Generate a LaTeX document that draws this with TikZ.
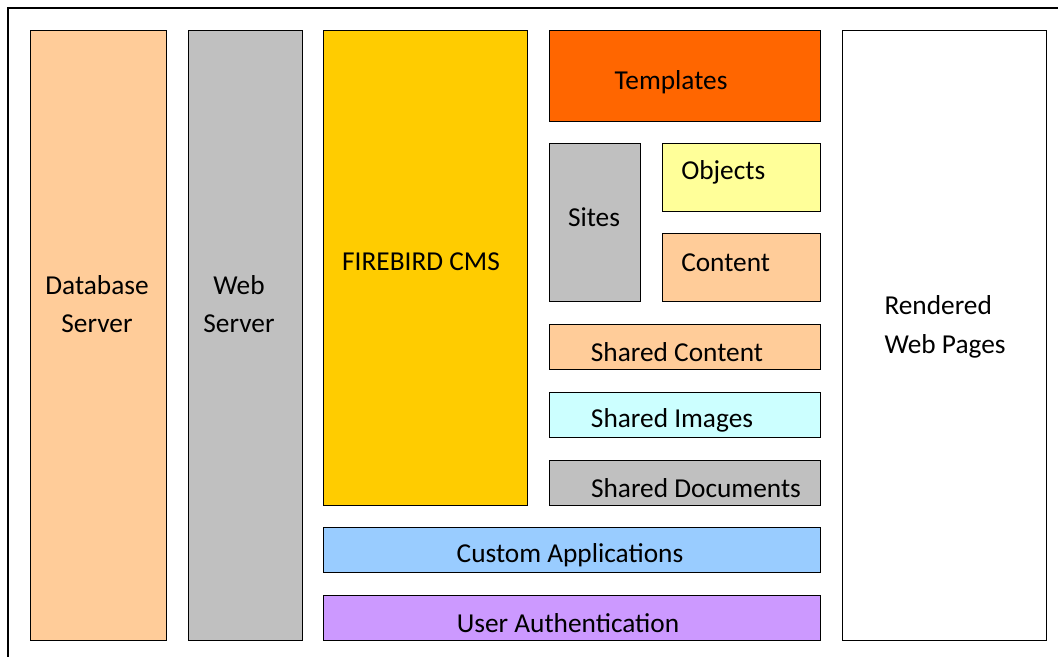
\documentclass[tikz,border=0pt]{standalone}
\usepackage{fontspec}
\setmainfont{Carlito}
\usepackage{tikz}
\definecolor{peach}{HTML}{FFCC99}
\definecolor{silver}{HTML}{C0C0C0}
\definecolor{gold}{HTML}{FFCC00}
\definecolor{tangerine}{HTML}{FF6600}
\definecolor{lemon}{HTML}{FFFF99}
\definecolor{ice}{HTML}{CCFFFF}
\definecolor{sky}{HTML}{99CCFF}
\definecolor{lilac}{HTML}{CC99FF}
\tikzset{panel/.style={draw=black, line width=1.1pt, anchor=north west, inner sep=0pt},
	lbl/.style={inner sep=0pt, yshift=-1.5pt, font=\fontsize{20.5}{29}\selectfont, align=center}}

\begin{document}
\begin{tikzpicture}[x=0.75pt, y=-0.75pt]
	\useasboundingbox (0,0) rectangle (1058,657);
	\begin{scope}
		\clip (0,0) rectangle (1058,657);
		\draw[line width=1.5pt] (8,8) rectangle (1080,680); % outer frame, cut off right and bottom
	\end{scope}
	% columns
	\node[panel, fill=peach, minimum width=102pt, minimum height=457.5pt] at (30,30) (Database) {};
	\node[panel, fill=silver, minimum width=85.5pt, minimum height=457.5pt] at (188,30) (WebSrv) {};
	\node[panel, fill=gold, minimum width=153pt, minimum height=356.25pt] at (323,30) (CMS) {};
	\node[panel, fill=white, minimum width=153pt, minimum height=457.5pt] at (842,30) (Rendered) {};
	% right hand stack
	\node[panel, fill=tangerine, minimum width=203.25pt, minimum height=68.25pt] at (549,30) (Templates) {};
	\node[panel, fill=silver, minimum width=68.25pt, minimum height=118.5pt] at (549,143) (Sites) {};
	\node[panel, fill=lemon, minimum width=118.5pt, minimum height=51pt] at (662,143) (Objects) {};
	\node[panel, fill=peach, minimum width=118.5pt, minimum height=51pt] at (662,233) (Content) {};
	\node[panel, fill=peach, minimum width=203.25pt, minimum height=33.75pt] at (549,324) (SharedContent) {};
	\node[panel, fill=ice, minimum width=203.25pt, minimum height=33.75pt] at (549,392) (SharedImages) {};
	\node[panel, fill=silver, minimum width=203.25pt, minimum height=33.75pt] at (549,460) (SharedDocs) {};
	% bottom bars
	\node[panel, fill=sky, minimum width=372.75pt, minimum height=33.75pt] at (323,527) (CustomApps) {};
	\node[panel, fill=lilac, minimum width=372.75pt, minimum height=33.75pt] at (323,595) (UserAuth) {};
	% labels
	\node[lbl] at (97,302) (Database text) {Database\\Server};
	\node[lbl] at (239,302) (WebSrv text) {Web\\Server};
	\node[lbl] at (421,260) (CMS text) {FIREBIRD CMS};
	\node[lbl, align=left] at (945,325) (Rendered text) {Rendered\\Web Pages};
	\node[lbl] at (671,80) (Templates text) {Templates};
	\node[lbl] at (594,215) (Sites text) {Sites};
	\node[lbl, anchor=west] at (681,170) (Objects text) {Objects};
	\node[lbl, anchor=west] at (681,261) (Content text) {Content};
	\node[lbl] at (677,350) (SharedContent text) {Shared Content};
	\node[lbl] at (672,418) (SharedImages text) {Shared Images};
	\node[lbl] at (696,486) (SharedDocs text) {Shared Documents};
	\node[lbl] at (570,553) (CustomApps text) {Custom Applications};
	\node[lbl] at (568,621) (UserAuth text) {User Authentication};
\end{tikzpicture}
\end{document}
